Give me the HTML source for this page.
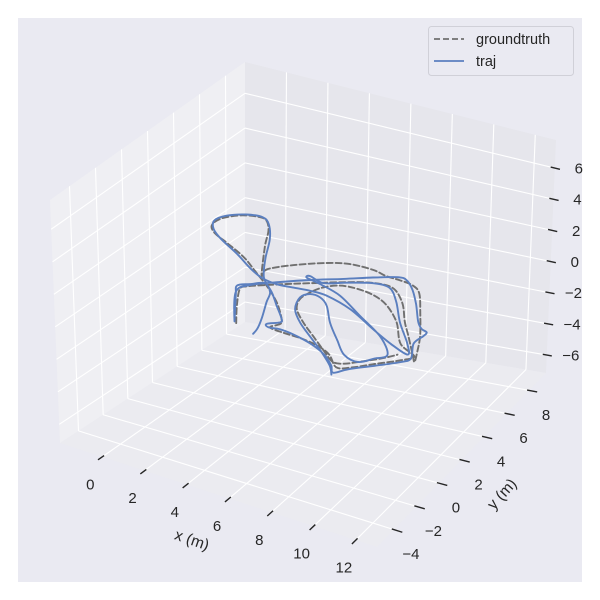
<!DOCTYPE html>
<html><head><meta charset="utf-8"><style>
html,body{margin:0;padding:0;background:#fff;}
svg{display:block;font-family:"Liberation Sans","DejaVu Sans",sans-serif;}
</style></head><body>
<svg id="chart" width="600" height="600" viewBox="0 0 600 600" xmlns="http://www.w3.org/2000/svg">
<rect x="18" y="18" width="564" height="564" fill="#eaeaf2"/>
<g id="panes"></g>
<g id="grid"></g>
<g id="ticks"></g>
<g id="series"></g>
<text x="192" y="545" font-size="15.5" fill="#262626" text-anchor="middle" transform="rotate(19 192 540)">x (m)</text>
<text x="502" y="499" font-size="15.5" fill="#262626" text-anchor="middle" transform="rotate(-48 502 494)">y (m)</text>
<text x="603" y="240" font-size="15" fill="#262626" text-anchor="middle" transform="rotate(90 603 240)">z (m)</text>
<g>
<rect x="428.5" y="26.5" width="145" height="49" rx="3" fill="#eaeaf2" stroke="#d0d0d8"/>
<line x1="434" y1="39" x2="464" y2="39" stroke="#707070" stroke-width="1.8" stroke-dasharray="6,3"/>
<text x="476" y="44" font-size="14.5" fill="#262626">groundtruth</text>
<line x1="434" y1="61" x2="464" y2="61" stroke="#5b7fbf" stroke-width="1.8"/>
<text x="476" y="66" font-size="14.5" fill="#262626">traj</text>
</g>
</svg>
<script>
const xTicks=[0,2,4,6,8,10,12];
const yTicks=[-4,-2,0,2,4,6,8];
const zTicks=[-6,-4,-2,0,2,4,6];
const xLim=[-2,13];
const yLim=[-5.5,9.5];
const zLim=[-7.15,7.8];
const trajX=[4.95,4.89,4.62,4.09,3.79,3.21,2.72,2.33,2.71,3.80,2.57,2.76,3.69,4.68,5.85,6.89,7.87,8.34,8.92,9.60,10.37,10.77,11.09,11.11,11.03,11.48,11.26,10.45,9.64,9.24,8.90,8.24,7.34,6.39,5.70,5.21,5.01,5.41,5.33,4.59,3.85,3.11,2.70,2.05,1.33,0.56,-0.03,-0.77,-1.44,-1.62,-1.20,-0.41,0.90,2.01,2.85,3.67,4.41,5.15,5.95,7.36,9.04,10.20,11.22,10.80,9.71,8.74,7.94,7.13,6.13,5.30,4.51,4.46,5.22,6.43,7.99,9.56,10.50,10.17,9.71,8.95,8.15,7.20,6.38,5.79,5.29,5.07,5.39,6.13,7.05,7.98,8.84,9.25];
const trajY=[-1.57,-1.11,-0.28,1.05,1.86,2.45,2.07,1.68,0.92,-1.08,1.16,1.99,2.86,3.62,4.36,5.02,5.52,5.39,4.81,3.89,2.69,2.26,2.12,1.80,1.10,0.05,-0.40,-1.20,-1.99,-2.55,-2.09,-1.49,-1.02,-0.74,-0.65,-0.76,-0.55,-0.15,0.13,1.01,1.90,2.62,3.21,4.47,6.02,7.22,7.70,7.61,7.12,6.46,5.72,5.03,4.14,3.30,2.80,2.62,2.71,2.81,2.78,2.27,1.27,0.63,0.23,0.97,2.31,3.72,4.57,4.60,4.13,3.65,3.92,3.73,3.51,3.05,1.98,0.91,-0.19,-0.71,-1.29,-1.08,-0.22,0.87,2.04,2.52,2.56,2.11,1.14,0.26,-0.53,-1.31,-2.12,-2.71];
const trajZ=trajX.map(()=>0.3);
const gtX=[3.93,3.18,2.57,2.70,3.24,4.02,4.82,5.87,6.85,7.71,8.32,9.12,9.89,10.57,11.40,11.74,11.44,10.99,10.17,9.30,8.70,7.99,7.33,6.57,5.45,4.54,3.42,2.65,2.78,2.43,1.45,0.84,0.23,-0.31,-0.97,-1.48,-1.46,-0.93,0.05,1.28,2.33,3.38,4.45,5.35,5.48,5.27,5.96,6.77,7.64,8.41,9.15,9.69,10.38,11.19,11.53,10.56,9.59,8.53,7.63,6.75,6.01,5.48,5.22,5.14,5.45,6.25,7.17,8.09,8.82,9.30,9.71,10.41,10.86];
const gtY=[-1.17,0.20,1.49,1.83,2.27,2.85,3.38,4.04,4.54,4.70,4.46,3.61,2.41,1.49,0.33,-0.13,0.68,1.73,3.23,4.70,5.18,5.32,5.37,5.59,5.60,5.25,4.44,3.57,2.93,3.54,5.44,6.73,7.53,7.64,7.40,6.77,6.00,5.39,4.80,4.03,3.16,2.29,1.26,0.10,-0.28,-0.73,-0.83,-0.85,-1.01,-1.38,-2.11,-1.80,-1.08,-0.28,0.24,0.83,2.24,3.27,3.74,3.89,3.79,3.33,2.68,1.98,1.18,0.33,-0.46,-1.24,-1.81,-1.69,-1.29,-0.57,0.02];
const gtZ=gtX.map(()=>0.3);

const NS="http://www.w3.org/2000/svg";
const C={
 "000":[60,443],"001":[50,200],
 "010":[245,322],"011":[245,62],
 "110":[546,373],"111":[556,140],
 "100":[377,547],"101":[383,318]
};
function P(x,y,z){
 const u=(x-xLim[0])/(xLim[1]-xLim[0]);
 const v=(y-yLim[0])/(yLim[1]-yLim[0]);
 const w=(z-zLim[0])/(zLim[1]-zLim[0]);
 let sx=0,sy=0;
 for(const a of [0,1])for(const b of [0,1])for(const c of [0,1]){
  const k=(a?u:1-u)*(b?v:1-v)*(c?w:1-w);
  const p=C[""+a+b+c];
  sx+=k*p[0];sy+=k*p[1];
 }
 return [sx,sy];
}
function el(tag,attrs,parent){
 const e=document.createElementNS(NS,tag);
 for(const k in attrs)e.setAttribute(k,attrs[k]);
 parent.appendChild(e);return e;
}
function line(p,q,stroke,sw,parent,name){
 const e=el("line",{x1:p[0],y1:p[1],x2:q[0],y2:q[1],stroke:stroke,"stroke-width":sw},parent);
 
 
 return e;
}
const [X0,X1]=xLim,[Y0,Y1]=yLim,[Z0,Z1]=zLim;
const panes=document.getElementById("panes");
function poly(pts,fill,name){
 const e=el("polygon",{points:pts.map(p=>p.join(",")).join(" "),fill:fill},panes);
 
 
}
poly([P(X0,Y0,Z0),P(X0,Y0,Z1),P(X0,Y1,Z1),P(X0,Y1,Z0)],"#efeff3","left-pane");
poly([P(X0,Y1,Z0),P(X0,Y1,Z1),P(X1,Y1,Z1),P(X1,Y1,Z0)],"#e6e6ec","back-pane");
poly([P(X0,Y0,Z0),P(X0,Y1,Z0),P(X1,Y1,Z0),P(X1,Y0,Z0)],"#ebebf0","floor-pane");

const grid=document.getElementById("grid");
const gc="#ffffff",gw=1.1;
xTicks.forEach(t=>{line(P(t,Y0,Z0),P(t,Y1,Z0),gc,gw,grid,"x-grid-line");line(P(t,Y1,Z0),P(t,Y1,Z1),gc,gw,grid,"x-grid-line");});
yTicks.forEach(t=>{line(P(X0,t,Z0),P(X1,t,Z0),gc,gw,grid,"y-grid-line");line(P(X0,t,Z0),P(X0,t,Z1),gc,gw,grid,"y-grid-line");});
zTicks.forEach(t=>{line(P(X0,Y0,t),P(X0,Y1,t),gc,gw,grid,"z-grid-line");line(P(X0,Y1,t),P(X1,Y1,t),gc,gw,grid,"z-grid-line");});

const ticks=document.getElementById("ticks");
const tc="#262626";
function lab(p,txt,name){
 const e=el("text",{x:p[0],y:p[1],"font-size":15,fill:tc,"text-anchor":"middle","dominant-baseline":"central"},ticks);
 e.textContent=txt;
 
 
}
const fmt=t=>t<0?"\u2212"+(-t):""+t;
xTicks.forEach(t=>{
 line(P(t,Y0-0.35,Z0),P(t,Y0+0.15,Z0),tc,1.4,ticks,"x-tick");
 const p=P(t,Y0,Z0);lab([p[0]-12,p[1]+28],fmt(t),"x-tick-label");
});
yTicks.forEach(t=>{
 line(P(X1-0.1,t,Z0),P(X1+0.4,t,Z0),tc,1.4,ticks,"y-tick");
 const p=P(X1,t,Z0);lab([p[0]+17,p[1]+25],fmt(t),"y-tick-label");
});
zTicks.forEach(t=>{
 line(P(X1-0.2,Y1,t),P(X1+0.25,Y1,t),tc,1.4,ticks,"z-tick");
 const p=P(X1,Y1,t);lab([p[0]+24,p[1]+1],fmt(t),"z-tick-label");
});

const series=document.getElementById("series");
function path(xs,ys,zs,attrs,name){
 const pts=xs.map((x,i)=>P(x,ys[i],zs[i]));
 let d="M"+pts[0][0].toFixed(1)+","+pts[0][1].toFixed(1);
 for(let i=0;i<pts.length-1;i++){
  const p0=pts[Math.max(0,i-1)],p1=pts[i],p2=pts[i+1],p3=pts[Math.min(pts.length-1,i+2)];
  const c1=[p1[0]+(p2[0]-p0[0])/6,p1[1]+(p2[1]-p0[1])/6];
  const c2=[p2[0]-(p3[0]-p1[0])/6,p2[1]-(p3[1]-p1[1])/6];
  d+="C"+c1.map(v=>v.toFixed(1)).join(",")+" "+c2.map(v=>v.toFixed(1)).join(",")+" "+p2.map(v=>v.toFixed(1)).join(",");
 }
 const e=el("path",Object.assign({d:d,fill:"none","stroke-linejoin":"round","stroke-linecap":"round"},attrs),series);
 
 
}
path(gtX,gtY,gtZ,{stroke:"#707070","stroke-width":1.9,"stroke-dasharray":"6,3"},"groundtruth-line");
path(trajX,trajY,trajZ,{stroke:"#5b7fbf","stroke-width":1.9},"traj-line");
</script>
</body></html>
